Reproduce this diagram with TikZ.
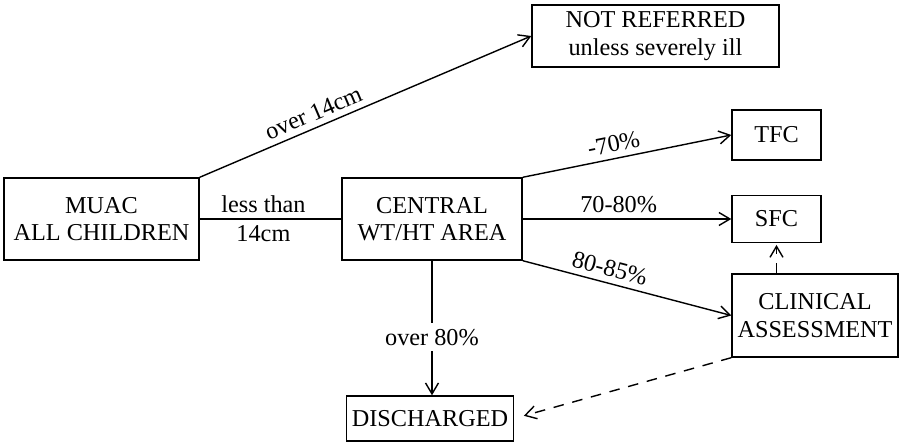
\documentclass[tikz,border=0pt]{standalone}
\usepackage{fontspec}
\setmainfont{Liberation Serif}
\usepackage{tikz}
\usetikzlibrary{arrows.meta}

\begin{document}
\begin{tikzpicture}[line width=0.8pt,
	every node/.style={font=\fontsize{13.8}{15.5}\selectfont},
	box/.style={draw,align=center,inner sep=0pt},
	>={Straight Barb[length=2.2mm,width=2.6mm]}]
	\useasboundingbox (0,0) rectangle (18,8.84);
	\node[box,minimum width=3.9cm,minimum height=1.64cm] (muac) at (2.03,4.46) {MUAC\\ALL CHILDREN};
	\node[box,minimum width=3.6cm,minimum height=1.64cm] (central) at (8.64,4.46) {CENTRAL\\WT/HT AREA};
	\node[box,minimum width=4.94cm,minimum height=1.24cm] (notref) at (13.11,8.12) {NOT REFERRED\\unless severely ill};
	\node[box,minimum width=1.78cm,minimum height=1cm] (tfc) at (15.53,6.14) {TFC};
	\node[box,minimum width=1.78cm,minimum height=0.94cm] (sfc) at (15.53,4.46) {SFC};
	\node[box,minimum width=3.32cm,minimum height=1.66cm] (clin) at (16.3,2.53) {CLINICAL\\ASSESSMENT};
	\node[box,minimum width=3.34cm,minimum height=0.9cm] (disc) at (8.6,0.47) {DISCHARGED};
	\draw (muac.east) -- (central.west) node[pos=0.45,anchor=south] {less than} node[pos=0.45,anchor=north] {14cm};
	\draw[->] (muac.north east) -- (notref.west) node[pos=0.36,sloped,above] {over 14cm};
	\draw[->] (central.north east) -- (tfc.west) node[pos=0.45,sloped,above] {-70\%};
	\draw[->] (central.east) -- (sfc.west) node[pos=0.46,above] {70-80\%};
	\draw[->] (central.south east) -- (clin.west) node[pos=0.4,sloped,above] {80-85\%};
	\draw[->] (central.south) -- (central.south |- disc.north) node[pos=0.57,fill=white] {over 80\%};
	\draw[->,dash pattern=on 6pt off 5pt,shorten >=1pt] (clin.north -| sfc.south) -- (sfc.south);
	\draw[->,dash pattern=on 6pt off 5pt,shorten >=0.2cm] (clin.south west) -- (disc.east);
\end{tikzpicture}
\end{document}
